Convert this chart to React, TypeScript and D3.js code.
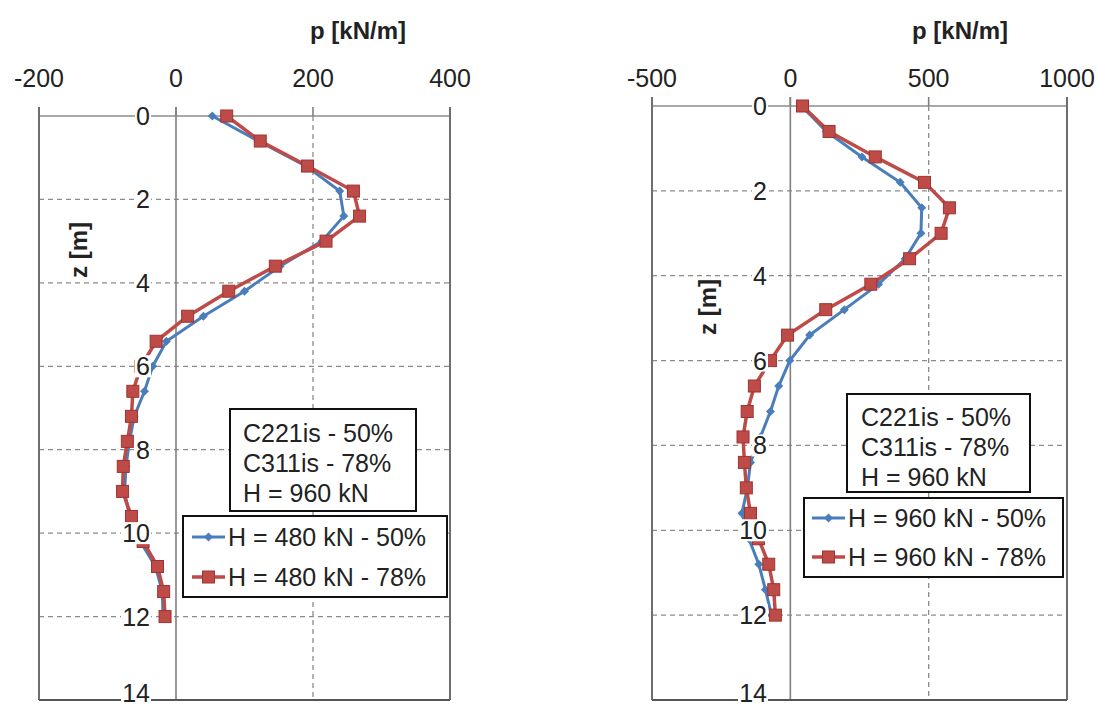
import React from "react";
import * as d3 from "d3";

// depth values (m)
const depthZ = [0, 0.6, 1.2, 1.8, 2.4, 3.0, 3.6, 4.2, 4.8, 5.4, 6.0, 6.6, 7.2, 7.8, 8.4, 9.0, 9.6, 10.2, 10.8, 11.4, 12.0];

// left chart: H = 480 kN
const left50 = [53, 120, 190, 239, 245, 213, 152, 100, 40, -14, -34, -46, -61, -68, -73, -75, -68, -52, -30, -20, -19];
const left78 = [74, 123, 192, 259, 268, 219, 145, 77, 17, -29, -51, -63, -65, -71, -77, -78, -65, -48, -27, -18, -16];

// right chart: H = 960 kN
const right50 = [40, 130, 259, 397, 475, 472, 415, 319, 195, 70, -2, -42, -72, -108, -144, -155, -175, -150, -114, -90, -68];
const right78 = [44, 140, 307, 485, 575, 545, 431, 291, 128, -10, -72, -130, -156, -171, -166, -159, -144, -115, -78, -60, -54];

const leftXTicks = [-200, 0, 200, 400];
const rightXTicks = [-500, 0, 500, 1000];
const zTicks = [0, 2, 4, 6, 8, 10, 12, 14];

const leftNotes = ["C221is - 50%", "C311is - 78%", "H = 960 kN"];
const rightNotes = ["C221is - 50%", "C311is - 78%", "H = 960 kN"];
const leftLegend = ["H = 480 kN - 50%", "H = 480 kN - 78%"];
const rightLegend = ["H = 960 kN - 50%", "H = 960 kN - 78%"];

const BLUE = "#4a7ebb";
const RED = "#be4b48";
const FONT = "'Liberation Sans', Arial, sans-serif";

type PanelProps = {
  xDomain: [number, number];
  xRange: [number, number];
  yRange: [number, number];
  xTicks: number[];
  s50: number[];
  s78: number[];
  notes: string[];
  legend: string[];
  titleX: number;
  zTitle: [number, number];
  labelRight: number;
  noteBox: [number, number, number, number];
  noteTextX: number;
  noteLineY: number[];
  legBox: [number, number, number, number];
  legLine: [number, number];
  legTextX: number;
  legY: number[];
};

function Diamond({ x, y }: { x: number; y: number }) {
  const r = 4.5;
  return <path d={`M${x},${y - r}L${x + r},${y}L${x},${y + r}L${x - r},${y}Z`} fill={BLUE} />;
}
function Square({ x, y }: { x: number; y: number }) {
  const r = 6;
  return <rect x={x - r} y={y - r} width={2 * r} height={2 * r} fill={RED} stroke="#9c3532" strokeWidth={1} />;
}

function Panel(p: PanelProps) {
  const x = d3.scaleLinear().domain(p.xDomain).range(p.xRange);
  const y = d3.scaleLinear().domain([0, 14]).range(p.yRange);
  const [x0, x1] = p.xRange;
  const [y0, y1] = p.yRange;
  const pts50 = depthZ.map((z, i) => [x(p.s50[i]), y(z)] as [number, number]);
  const pts78 = depthZ.map((z, i) => [x(p.s78[i]), y(z)] as [number, number]);
  const line = d3.line();
  const midTick = p.xTicks[2];
  return (
    <g>
      {zTicks.slice(1, -1).map((t) => (
        <line key={"h" + t} x1={x0} x2={x1} y1={y(t)} y2={y(t)} stroke="#8c8c8c" strokeWidth={1.3} strokeDasharray="5,4" />
      ))}
      <line x1={x(midTick)} x2={x(midTick)} y1={y0} y2={y1} stroke="#8c8c8c" strokeWidth={1.3} strokeDasharray="5,4" />
      <line x1={x(0)} x2={x(0)} y1={y0 - 9} y2={y1} stroke="#7f7f7f" strokeWidth={1.6} />
      <line x1={x0} x2={x1} y1={y0} y2={y0} stroke="#8c8c8c" strokeWidth={1.6} />
      {p.xTicks.map((t) => (
        <line key={"t" + t} x1={x(t)} x2={x(t)} y1={y0 - 9} y2={y0} stroke="#7f7f7f" strokeWidth={1.6} />
      ))}
      <line x1={x0} x2={x0} y1={y0 - 9} y2={y1} stroke="#6e6e6e" strokeWidth={2} />
      <line x1={x1} x2={x1} y1={y0 - 9} y2={y1} stroke="#6e6e6e" strokeWidth={2} />
      <line x1={x0} x2={x1} y1={y1} y2={y1} stroke="#555" strokeWidth={2} />
      {p.xTicks.map((t) => (
        <text key={"xl" + t} x={x(t)} y={78} textAnchor="middle" dominantBaseline="central" fontSize={25} fontFamily={FONT} fill="#222">
          {t}
        </text>
      ))}
      <text x={p.titleX} y={30} textAnchor="middle" dominantBaseline="central" fontSize={24} fontWeight="bold" fontFamily={FONT} fill="#222">
        p [kN/m]
      </text>
      <text
        transform={`translate(${p.zTitle[0]},${p.zTitle[1]}) rotate(-90)`}
        textAnchor="middle"
        dominantBaseline="central"
        fontSize={24}
        fontWeight="bold"
        fontFamily={FONT}
        fill="#222"
      >
        z [m]
      </text>
      <path d={line(pts50) || ""} fill="none" stroke={BLUE} strokeWidth={3} />
      {pts50.map((q, i) => (
        <Diamond key={"d" + i} x={q[0]} y={q[1]} />
      ))}
      <path d={line(pts78) || ""} fill="none" stroke={RED} strokeWidth={3.5} />
      {pts78.map((q, i) => (
        <Square key={"s" + i} x={q[0]} y={q[1]} />
      ))}
      {zTicks.map((t) => {
        const w = String(t).length * 14 + 2;
        const ty = Math.min(y(t), 693);
        return (
          <g key={"yl" + t}>
            <rect x={p.labelRight - w + 1} y={ty - 11} width={w} height={22} fill="#fff" />
            <text x={p.labelRight} y={ty} textAnchor="end" dominantBaseline="central" fontSize={25} fontFamily={FONT} fill="#222">
              {t}
            </text>
          </g>
        );
      })}
      <rect x={p.noteBox[0]} y={p.noteBox[1]} width={p.noteBox[2]} height={p.noteBox[3]} fill="#fff" stroke="#111" strokeWidth={2} />
      {p.notes.map((n, i) => (
        <text key={"n" + i} x={p.noteTextX} y={p.noteLineY[i]} dominantBaseline="central" fontSize={25} fontFamily={FONT} fill="#222">
          {n}
        </text>
      ))}
      <rect x={p.legBox[0]} y={p.legBox[1]} width={p.legBox[2]} height={p.legBox[3]} fill="#fff" stroke="#111" strokeWidth={2} />
      {p.legend.map((l, i) => {
        const ly = p.legY[i];
        const cx = (p.legLine[0] + p.legLine[1]) / 2;
        return (
          <g key={"l" + i}>
            <line x1={p.legLine[0]} x2={p.legLine[1]} y1={ly} y2={ly} stroke={i === 0 ? BLUE : RED} strokeWidth={i === 0 ? 3 : 3.5} />
            {i === 0 ? <Diamond x={cx} y={ly} /> : <Square x={cx} y={ly} />}
            <text x={p.legTextX} y={ly} dominantBaseline="central" fontSize={25} fontFamily={FONT} fill="#222">
              {l}
            </text>
          </g>
        );
      })}
    </g>
  );
}

export default function App() {
  return (
    <svg width={1098} height={706} style={{ position: "absolute", left: 0, top: 0, background: "#fff" }}>
      <rect x={0} y={0} width={1098} height={706} fill="#fff" />
      <Panel
        xDomain={[-200, 400]}
        xRange={[39, 450]}
        yRange={[116, 700]}
        xTicks={leftXTicks}
        s50={left50}
        s78={left78}
        notes={leftNotes}
        legend={leftLegend}
        titleX={358}
        zTitle={[78, 250]}
        labelRight={150}
        noteBox={[230, 409, 186, 102]}
        noteTextX={243}
        noteLineY={[433, 463, 493]}
        legBox={[183, 516, 264, 81]}
        legLine={[192, 225]}
        legTextX={228}
        legY={[537, 577]}
      />
      <Panel
        xDomain={[-500, 1000]}
        xRange={[652, 1067]}
        yRange={[106, 700]}
        xTicks={rightXTicks}
        s50={right50}
        s78={right78}
        notes={rightNotes}
        legend={rightLegend}
        titleX={960}
        zTitle={[707, 307]}
        labelRight={767}
        noteBox={[847, 394, 183, 98]}
        noteTextX={861}
        noteLineY={[417, 447, 477]}
        legBox={[804, 498, 259, 79]}
        legLine={[812, 845]}
        legTextX={848}
        legY={[518, 557]}
      />
    </svg>
  );
}
